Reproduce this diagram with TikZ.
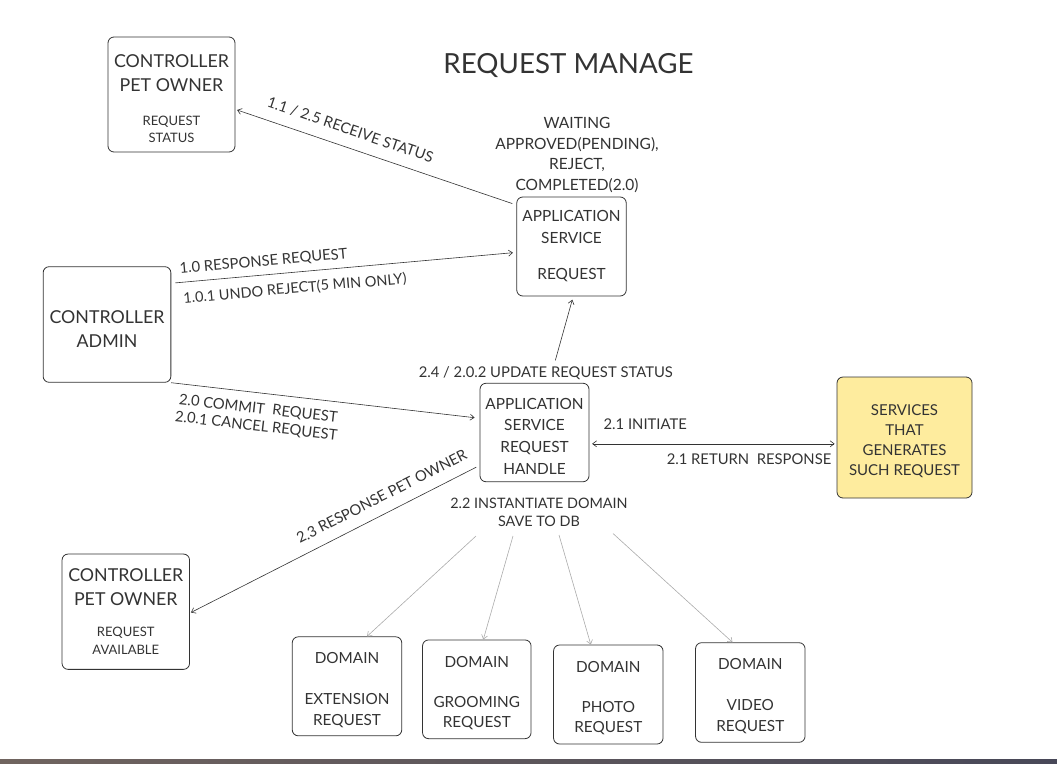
\documentclass[tikz,border=0pt]{standalone}
\usepackage{fontspec}
\setmainfont{Lato}
\usetikzlibrary{arrows.meta}
\definecolor{inkgray}{HTML}{333333}
\definecolor{linkgray}{HTML}{ABABAB}
\definecolor{servyellow}{HTML}{FEEC9E}
\newcommand{\fsz}[2]{\fontsize{#1}{#2}\selectfont}
\newcommand{\toppad}{\rule{0pt}{1.2em}}

\begin{document}
\begin{tikzpicture}[x=1pt,y=1pt,
  >={Straight Barb[length=4pt,width=6pt]},
  box/.style={draw=inkgray, rounded corners=6pt, line width=0.8pt, align=center, text=inkgray, inner sep=0pt},
  lbl/.style={text=inkgray, font=\fsz{14.8}{19}, inner sep=1.5pt},
  link/.style={draw=inkgray, line width=0.6pt, ->},
  domlink/.style={draw=linkgray, line width=0.6pt, ->}]

\useasboundingbox (0,0) rectangle (1057,-763);

\node[text=inkgray, font=\fsz{27.7}{32}] (title) at (568.5,-66) {REQUEST MANAGE};

\node[box, minimum width=127, minimum height=115, font=\fsz{17.8}{24}] (ownerstatus) at (171.5,-94.5) {\toppad CONTROLLER\\PET OWNER\\[10pt]\fsz{13}{17}REQUEST\\[-6.7pt]\fsz{13}{17}STATUS};
\node[box, minimum width=109.5, minimum height=99, font=\fsz{15.4}{21.3}] (appreq) at (571.5,-246.5) {APPLICATION\\SERVICE\\[15.4pt]REQUEST};
\node[box, minimum width=127.7, minimum height=115.6, font=\fsz{17.8}{23.7}] (admin) at (107,-324.5) {\toppad CONTROLLER\\ADMIN};
\node[box, minimum width=109, minimum height=98.5, font=\fsz{15.4}{21.7}] (handle) at (534.5,-432.5) {\toppad APPLICATION\\SERVICE\\REQUEST\\HANDLE};
\node[box, fill=servyellow, minimum width=135, minimum height=121, font=\fsz{15}{19.8}] (services) at (904.5,-437.5) {\toppad SERVICES\\THAT\\GENERATES\\SUCH REQUEST};
\node[box, minimum width=127.5, minimum height=115.3, font=\fsz{17.8}{24}] (owneravail) at (125.8,-611.7) {CONTROLLER\\PET OWNER\\[7pt]\fsz{13}{17}REQUEST\\[-6.4pt]\fsz{13}{17}AVAILABLE};

\node[box, minimum width=109.5, minimum height=99, font=\fsz{15.3}{20.7}] (dext) at (347,-686.3) {\toppad DOMAIN\\[20.5pt]EXTENSION\\REQUEST};
\node[box, minimum width=108.5, minimum height=98.7, font=\fsz{15.3}{20.3}] (dgroom) at (476.8,-689.3) {\toppad DOMAIN\\[19.7pt]GROOMING\\REQUEST};
\node[box, minimum width=109.5, minimum height=99, font=\fsz{15.3}{20.7}] (dphoto) at (608.3,-694.5) {\toppad DOMAIN\\[19.3pt]PHOTO\\REQUEST};
\node[box, minimum width=109.5, minimum height=99.6, font=\fsz{15.3}{20.6}] (dvideo) at (750.3,-692.5) {\toppad DOMAIN\\[20pt]VIDEO\\REQUEST};

\node[lbl, align=center, font=\fsz{15.5}{20.7}] (statuslbl) at (577,-155) {WAITING\\APPROVED(PENDING),\\REJECT,\\COMPLETED(2.0)};
\node[lbl] (updlbl) at (545.8,-372.7) {2.4 / 2.0.2 UPDATE REQUEST STATUS};
\node[lbl, align=center, font=\fsz{14.4}{18.4}] (instlbl) at (539,-512.5) {2.2 INSTANTIATE DOMAIN\\SAVE TO DB};

\draw[link] ([shift={(-4,-7)}]appreq.north west) -- node[lbl, sloped, above=10pt, pos=0.609] {1.1 / 2.5 RECEIVE STATUS} ([shift={(1.7,-15.5)}]ownerstatus.east);
\draw[link] ([shift={(4,-16.6)}]admin.north east) -- node[lbl, sloped, above=4.8pt, pos=0.265] {1.0 RESPONSE REQUEST} node[lbl, sloped, below=8pt, pos=0.35, font=\fsz{14.5}{19}] {1.0.1 UNDO REJECT(5 MIN ONLY)} ([shift={(-3.4,-6.2)}]appreq.west);
\draw[link] (admin.south east) -- node[lbl, sloped, below=8pt, pos=0.293, align=center, font=\fsz{14.8}{17.7}] {2.0 COMMIT\ \ REQUEST\\2.0.1 CANCEL REQUEST} ([shift={(-5,14.8)}]handle.west);
\draw[link] ([shift={(9.5,4)}]updlbl.north) -- ([shift={(0.8,-3.3)}]appreq.south);
\draw[link, <->] ([shift={(2.7,-11.3)}]handle.east) -- node[lbl, above=12.6pt, pos=0.219] {2.1 INITIATE} node[lbl, below=8.6pt, pos=0.647] {2.1 RETURN\ \ RESPONSE} ([shift={(-2,-6.3)}]services.west);
\draw[link] ([shift={(-3.3,15)}]handle.south west) -- node[lbl, sloped, above=9.7pt, pos=0.305] {2.3 RESPONSE PET OWNER} ([shift={(1,-0.8)}]owneravail.east);

\draw[domlink] ([shift={(-63,-23.5)}]instlbl.center) -- ([xshift=20pt]dext.north);
\draw[domlink] ([shift={(-26,-23.5)}]instlbl.center) -- ([xshift=6.5pt]dgroom.north);
\draw[domlink] ([shift={(20,-22.5)}]instlbl.center) -- ([xshift=-17.5pt]dphoto.north);
\draw[domlink] ([shift={(74,-21)}]instlbl.center) -- ([xshift=-17.8pt]dvideo.north);

\fill[left color={rgb,255:red,112;green,100;blue,95}, right color={rgb,255:red,72;green,72;blue,88}] (0,-759) rectangle (1057,-763);

\end{tikzpicture}
\end{document}
